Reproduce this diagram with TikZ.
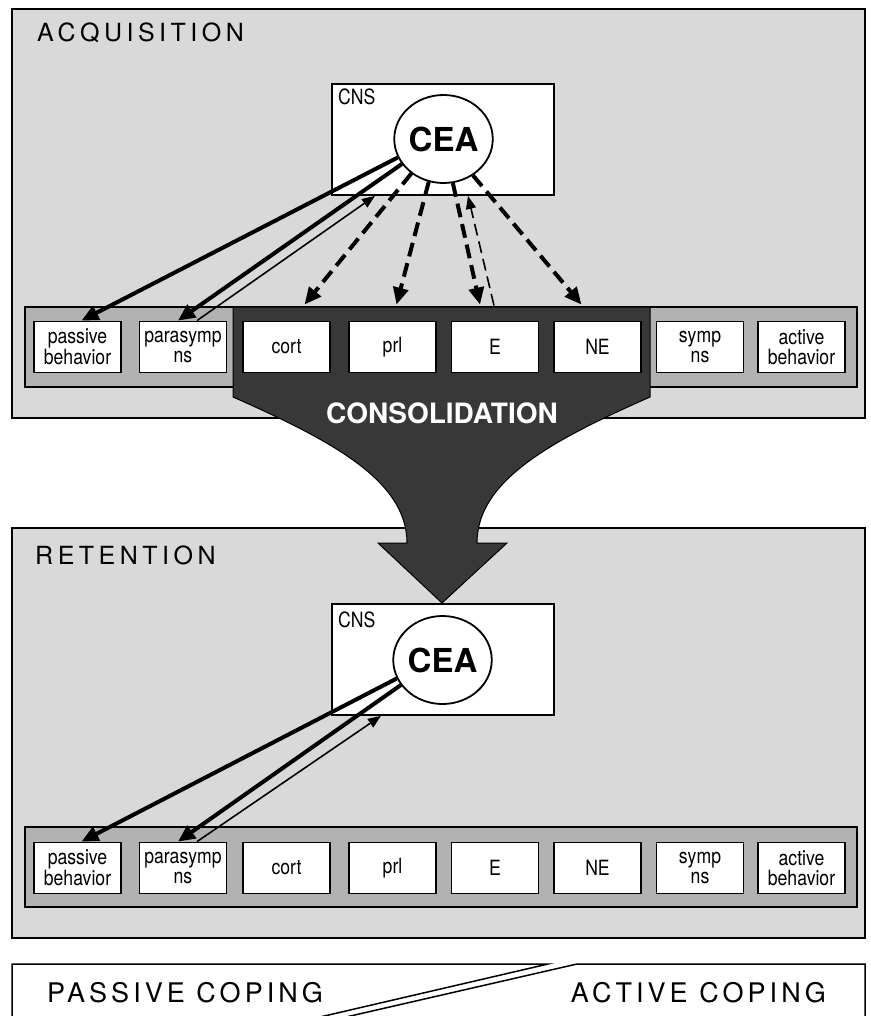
\documentclass[tikz,border=0pt]{standalone}
\usepackage{fontspec}
\setmainfont{TeX Gyre Heros}
\newfontfamily\narrowf[FakeStretch=0.84]{TeX Gyre Heros}
\newfontfamily\spacedf[LetterSpace=18]{TeX Gyre Heros}
\newfontfamily\copingf[LetterSpace=15]{TeX Gyre Heros}
\usetikzlibrary{shapes.geometric,arrows.meta,calc}
\definecolor{panelgray}{gray}{0.85}
\definecolor{stripgray}{gray}{0.70}
\definecolor{consgray}{gray}{0.22}
\begin{document}
\begin{tikzpicture}[x=1pt,y=-1pt,
  panel/.style={fill=panelgray,draw=black,line width=1.5pt},
  strip/.style={fill=stripgray,draw=black,line width=1.5pt},
  item/.style={draw=black,fill=white,line width=1.8pt,minimum width=87pt,minimum height=51pt,inner sep=0pt,align=center,font=\narrowf\fontsize{21}{19.5}\selectfont},
  cnsbox/.style={draw=black,fill=white,line width=1.8pt,minimum width=222pt,minimum height=111pt,inner sep=0pt},
  cnslabel/.style={font=\narrowf\fontsize{21}{21}\selectfont,inner sep=0pt,anchor=base west},
  cea/.style={ellipse,draw=black,fill=white,line width=1.8pt,minimum width=97pt,minimum height=88pt,inner sep=0pt,font=\fontsize{33}{33}\selectfont\bfseries},
  thickarrow/.style={line width=4pt,-{Triangle[length=17pt,width=15pt]}},
  dasharrow/.style={line width=4pt,dash pattern=on 14pt off 7pt,-{Triangle[length=17pt,width=15pt]}},
  thinarrow/.style={line width=1.6pt,-{Triangle[length=13pt,width=10pt]}},
  thindash/.style={line width=1.6pt,dash pattern=on 12pt off 6pt,-{Triangle[length=13pt,width=10pt]}},
  heading/.style={font=\spacedf\fontsize{25}{25}\selectfont,inner sep=0pt,anchor=base west},
  copinglabel/.style={font=\copingf\fontsize{27}{27}\selectfont,inner sep=0pt},
  outline/.style={draw=black,line width=1.5pt},
]
\useasboundingbox (0,0) rectangle (870,1016);
\fill[white] (0,0) rectangle (870,1016);

% panels and strips
\path[panel] (12,9) rectangle (865,418);
\path[strip] (25,307) rectangle (857,387);
\path[panel] (12,528) rectangle (865,938);
\path[strip] (25,827) rectangle (857,907);

% consolidation arrow
\path[fill=consgray,draw=black,line width=1pt] (233,307) -- (233,397)
  .. controls (330,440) and (407,480) .. (407,543) -- (378,543) -- (442,603)
  -- (507,543) -- (477,543) .. controls (477,480) and (553,440) .. (650,397)
  -- (650,307) -- cycle;

% headings
\node[heading] (acq) at (37,42) {ACQUISITION};
\node[heading] (ret) at (35,564) {RETENTION};

% top panel nodes
\node[cnsbox] (cns1) at (443,139.5) {};
\node[cnslabel] (cnsl1) at (338,105) {CNS};
\node[cea] (cea1) at (443.5,139) {CEA};
\node[item] (pb1) at (77.5,347) {passive\\behavior};
\node[item] (ps1) at (183,347) {parasymp\\ns};
\node[item] (co1) at (286.5,347) {cort};
\node[item] (pr1) at (392.5,347) {prl};
\node[item] (e1) at (495,347) {E};
\node[item] (ne1) at (597.5,347) {NE};
\node[item] (sy1) at (700,347) {symp\\ns};
\node[item] (ab1) at (801.5,347) {active\\behavior};

% bottom panel nodes
\node[cnsbox] (cns2) at (443,659.5) {};
\node[cnslabel] (cnsl2) at (338,627) {CNS};
\node[cea] (cea2) at (442.5,660) {CEA};
\node[item] (pb2) at (77.5,868) {passive\\behavior};
\node[item] (ps2) at (183,868) {parasymp\\ns};
\node[item] (co2) at (286.5,868) {cort};
\node[item] (pr2) at (392.5,868) {prl};
\node[item] (e2) at (495,868) {E};
\node[item] (ne2) at (597.5,868) {NE};
\node[item] (sy2) at (700,868) {symp\\ns};
\node[item] (ab2) at (801.5,868) {active\\behavior};

% top arrows
\draw[thickarrow] (cea1.202) -- ([xshift=4pt]pb1.north);
\draw[thickarrow] (cea1.211) -- ([xshift=-5pt]ps1.north);
\draw[thinarrow] ([xshift=14pt]ps1.north) -- ([xshift=-68pt]cns1.south);
\draw[dasharrow] (cea1.227) -- ([xshift=18pt,yshift=16pt]co1.north);
\draw[dasharrow] (cea1.251) -- ([xshift=4pt,yshift=16pt]pr1.north);
\draw[dasharrow] (cea1.282) -- ([xshift=-15pt,yshift=16pt]e1.north);
\draw[dasharrow] (cea1.309) -- ([xshift=-16pt,yshift=16pt]ne1.north);
\draw[thindash] ([xshift=-1pt,yshift=15pt]e1.north) -- ([xshift=25pt]cns1.south);

% bottom arrows
\draw[thickarrow] (cea2.202) -- ([xshift=4pt]pb2.north);
\draw[thickarrow] (cea2.211) -- ([xshift=-5pt]ps2.north);
\draw[thinarrow] ([xshift=14pt]ps2.north) -- ([xshift=-62pt]cns2.south);

% consolidation label
\node[font=\fontsize{28}{28}\selectfont\bfseries,text=white,inner sep=0pt] (cons) at (442,413) {CONSOLIDATION};

% coping box
\draw[outline] (12,1017) -- (12,964) -- (548,964) -- (320,1017);
\draw[outline] (865,1017) -- (865,964) -- (577,964) -- (346,1017);
\node[copinglabel,anchor=base west] (pc) at (47,1002) {PASSIVE COPING};
\node[copinglabel,anchor=base east] (ac) at (826,1002) {ACTIVE COPING};
\end{tikzpicture}
\end{document}
